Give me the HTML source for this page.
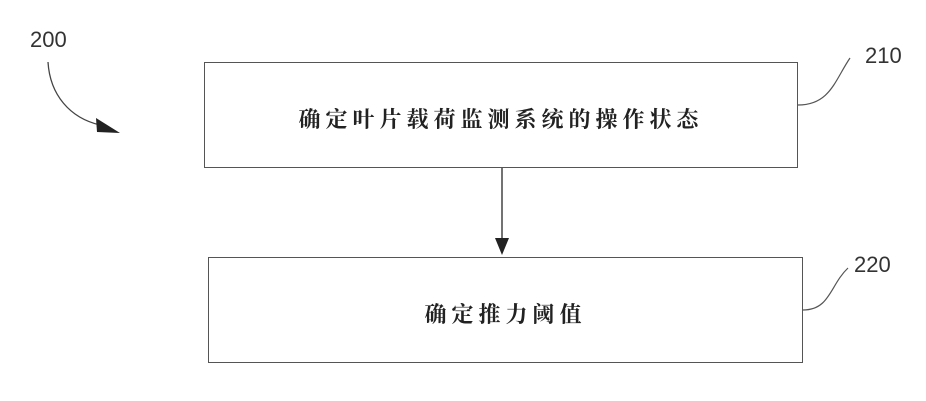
<!DOCTYPE html>
<html><head><meta charset="utf-8"><style>
body{margin:0;background:#fff;width:926px;height:401px;overflow:hidden;position:relative;font-family:"Liberation Serif","Noto Serif CJK SC",serif}
.box{position:absolute;border:1.5px solid #555;box-sizing:border-box;display:flex;align-items:center;justify-content:center;font-size:22px;font-weight:bold;color:#222;letter-spacing:5px;padding-top:6px}
.lbl{position:absolute;font-family:"Liberation Sans",sans-serif;font-size:22px;color:#333}
</style></head><body>
<div class="box" style="left:204px;top:62px;width:594px;height:106px">确定叶片载荷监测系统的操作状态</div>
<div class="box" style="left:208px;top:257px;width:595px;height:106px">确定推力阈值</div>
<div class="lbl" style="left:30px;top:27px">200</div>
<div class="lbl" style="left:865px;top:43px">210</div>
<div class="lbl" style="left:854px;top:252px">220</div>
<svg width="926" height="401" style="position:absolute;left:0;top:0">
<line x1="502" y1="168" x2="502" y2="240" stroke="#444" stroke-width="1.5"/>
<polygon points="495,238 509,238 502,255" fill="#222"/>
<path d="M48,62 C50,95 70,118 100,125" fill="none" stroke="#444" stroke-width="1.3"/>
<polygon points="96,118 120,133 97,132" fill="#222"/>
<path d="M798,105 C830,105 835,80 850,58" fill="none" stroke="#555" stroke-width="1.2"/>
<path d="M803,310 C830,310 830,285 848,268" fill="none" stroke="#555" stroke-width="1.2"/>
</svg>
</body></html>
